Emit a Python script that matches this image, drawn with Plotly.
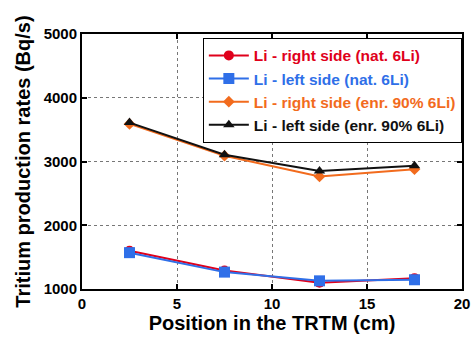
import plotly.graph_objects as go

positions = [2.5, 7.5, 12.5, 17.5]
right_nat = [1600, 1290, 1100, 1170]
left_nat = [1570, 1265, 1128, 1145]
right_enr = [3590, 3090, 2765, 2880]
left_enr = [3610, 3105, 2850, 2935]

series = [
    ("Li - right side (nat. 6Li)", right_nat, "#e0001b", "circle", 10),
    ("Li - left side (nat. 6Li)", left_nat, "#2f6fe8", "square", 11),
    ("Li - right side (enr. 90% 6Li)", right_enr, "#f26b1d", "diamond", 9),
    ("Li - left side (enr. 90% 6Li)", left_enr, "#111111", "triangle-up", 10),
]

fig = go.Figure()
for name, vals, color, sym, size in series:
    fig.add_trace(go.Scatter(
        x=positions, y=vals, mode="lines+markers",
        name=f"<span style='color:{color}'><b>{name}</b></span>",
        line=dict(color=color, width=2),
        marker=dict(symbol=sym, size=size, color=color),
    ))

axis_common = dict(
    showline=True, linecolor="black", linewidth=2, mirror="ticks",
    ticks="inside", ticklen=5, tickwidth=1.5, tickcolor="black",
    showgrid=True, gridcolor="#777777", griddash="dot", gridwidth=1,
    zeroline=False, automargin=False,
    tickfont=dict(family="Liberation Sans, Arial", size=15, color="black", weight="bold"),
)

fig.update_xaxes(range=[0, 20], dtick=5,
                 title=dict(text="<b>Position in the TRTM (cm)</b>", standoff=4,
                            font=dict(family="Liberation Sans, Arial", size=20, color="black")),
                 **axis_common)
fig.update_yaxes(range=[1000, 5000], dtick=1000,
                 title=dict(text="<b>Tritium production rates (Bq/s)</b>", standoff=8,
                            font=dict(family="Liberation Sans, Arial", size=20, color="black")),
                 **axis_common)

fig.update_layout(
    width=472, height=339,
    margin=dict(l=82, r=10, t=34, b=50),
    plot_bgcolor="white", paper_bgcolor="white",
    legend=dict(x=0.318, y=0.985, xanchor="left", yanchor="top",
                bgcolor="white", bordercolor="black", borderwidth=1,
                font=dict(family="Liberation Sans, Arial", size=15.5),
                itemwidth=40, tracegroupgap=0),
)

fig.write_html("out.html")
